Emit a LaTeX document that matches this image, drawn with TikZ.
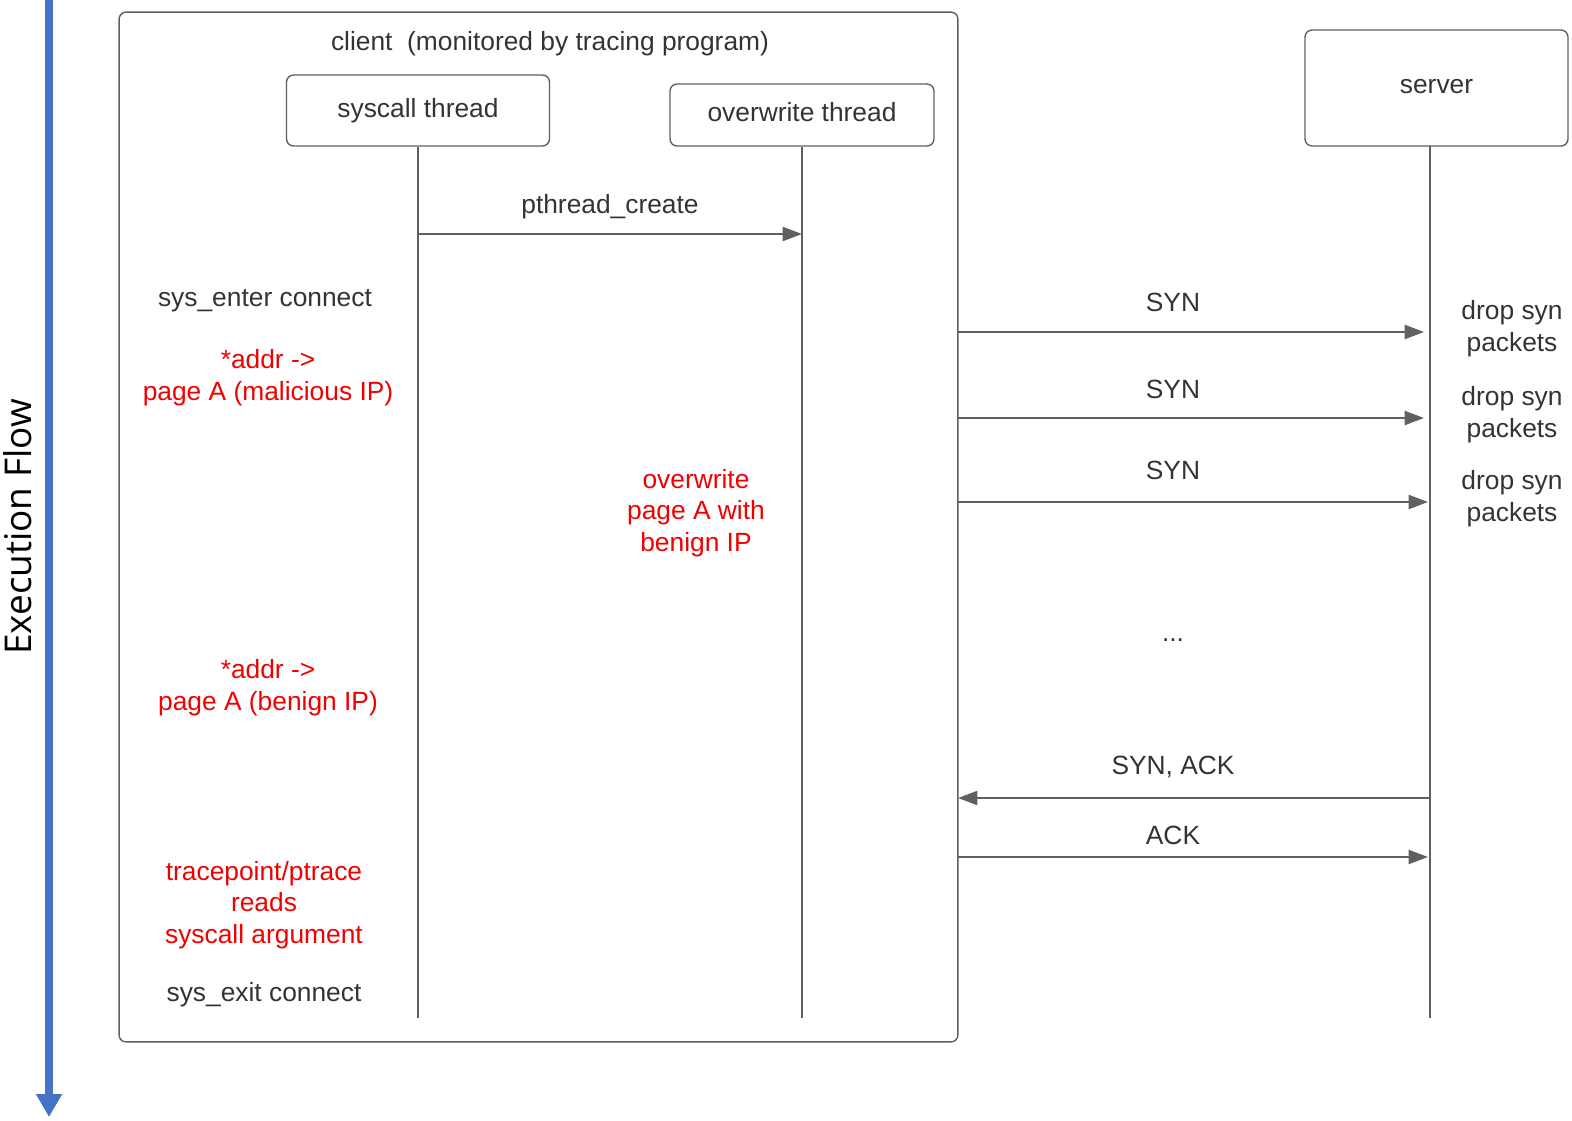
\documentclass[tikz,border=0pt]{standalone}
\usepackage{fontspec}
\setmainfont{Liberation Sans}
\newfontfamily\flowfont{Open Sans}
\usetikzlibrary{arrows.meta, positioning}
\definecolor{linegray}{HTML}{606060}
\definecolor{txtgray}{HTML}{333333}
\definecolor{notered}{HTML}{F00000}
\definecolor{flowblue}{HTML}{4472C4}
\tikzset{
  actor/.style={draw=linegray, line width=0.8pt, rounded corners=4pt, inner sep=0pt,
    font=\fontsize{15}{18.1}\selectfont, text=txtgray},
  life/.style={linegray, line width=1.1pt},
  msg/.style={linegray, line width=1.1pt, -{Triangle[length=11pt,width=8pt]}},
  lbl/.style={font=\fontsize{15}{18.1}\selectfont, text=txtgray, align=center, yshift=-2.3pt},
  note/.style={font=\fontsize{15}{18.1}\selectfont, text=notered, align=center, yshift=-2.3pt}
}
\begin{document}
\begin{tikzpicture}[x=0.02cm, y=-0.02cm]
        \useasboundingbox (0,0) rectangle (1572,1120);

        % Execution flow
        \coordinate (flowtop) at (49,0);
        \coordinate (flowend) at (49,1117);
        \draw[flowblue, line width=4pt, -{Triangle[length=13pt,width=14pt]}] (flowtop) -- (flowend);
        \node[rotate=90, font=\flowfont\fontsize{21}{24}\selectfont] (flow) at (18,527) {Execution Flow};

        % Client box
        \node[actor, minimum width=16.78cm, minimum height=20.6cm] (client) at (538.5,527) {};
        \node[lbl] (clienttitle) at (550,40) {client\ \ (monitored by tracing program)};

        % Participants
        \node[actor, minimum width=5.26cm, minimum height=1.42cm] (syscall) at (418,110.5) {syscall thread};
        \node[actor, minimum width=5.28cm, minimum height=1.24cm, text depth=4pt] (overwrite) at (802,115) {overwrite thread};
        \node[actor, minimum width=5.26cm, minimum height=2.32cm, text depth=2pt] (server) at (1436.5,88) {server};

        % Lifelines
        \coordinate (sysend) at (418,1018);
        \coordinate (owend) at (802,1018);
        \coordinate (srvtop) at (1430,146);
        \coordinate (srvend) at (1430,1018);
        \draw[life] (syscall.south) -- (sysend);
        \draw[life] (overwrite.south) -- (owend);
        \draw[life] (srvtop) -- (srvend);

        % Messages
        \coordinate (pcfrom) at (418,234);
        \coordinate (pcto) at (802,234);
        \draw[msg] (pcfrom) -- (pcto);
        \node[lbl] (pclbl) at (610,203) {pthread\_create};

        \foreach \y/\e/\t in {332/1424/298, 418/1424/385, 502/1428/466}{
            \coordinate (synfrom) at (958,\y);
            \coordinate (synto) at (\e,\y);
            \draw[msg] (synfrom) -- (synto);
            \node[lbl] at (1173,\t) {SYN};
            \node[lbl] at (1512,\y-7) {drop syn\\packets};
        }
        \node[lbl] (dots) at (1173,636) {...};

        \coordinate (sackfrom) at (1430,798);
        \coordinate (sackto) at (958,798);
        \draw[msg] (sackfrom) -- (sackto);
        \node[lbl] (sacklbl) at (1173,763) {SYN, ACK};

        \coordinate (ackfrom) at (958,857);
        \coordinate (ackto) at (1428,857);
        \draw[msg] (ackfrom) -- (ackto);
        \node[lbl] (acklbl) at (1173,831) {ACK};

        % Notes
        \node[lbl] (enter) at (265,297) {sys\_enter connect};
        \node[note] (malicious) at (268,374) {*addr ->\\page A (malicious IP)};
        \node[note] (overwr) at (696,509) {overwrite\\page A with\\benign IP};
        \node[note] (benign) at (268,684) {*addr ->\\page A (benign IP)};
        \node[note] (reads) at (264,901) {tracepoint/ptrace\\reads\\syscall argument};
        \node[lbl] (exit) at (264,991) {sys\_exit connect};
    \end{tikzpicture}
\end{document}
